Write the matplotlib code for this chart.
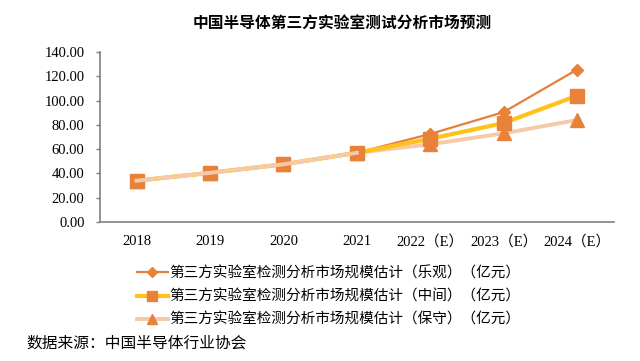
import matplotlib as mpl
mpl.use('Agg')
import matplotlib.pyplot as plt

plt.rcParams['font.family'] = ['Liberation Serif', 'Noto Sans CJK SC']

years = ['2018', '2019', '2020', '2021', '2022（E）', '2023（E）', '2024（E）']
optimistic = [34.0, 40.5, 47.5, 57.0, 72.5, 90.5, 125.5]
middle = [34.0, 40.5, 47.5, 57.0, 68.5, 81.5, 104.0]
conservative = [34.0, 40.5, 47.5, 57.0, 64.0, 73.0, 84.0]
n_hist = 4  # 2018-2021 are actuals, rest are estimates

labels = ['第三方实验室检测分析市场规模估计（乐观）（亿元）',
          '第三方实验室检测分析市场规模估计（中间）（亿元）',
          '第三方实验室检测分析市场规模估计（保守）（亿元）']

fig = plt.figure(figsize=(6.4, 3.61), dpi=100)
ax = fig.add_axes([0.156, 0.385, 0.803, 0.471])

x = list(range(len(years)))
orange = '#E8823A'
l1, = ax.plot(x, optimistic, color='#E4803F', lw=1.6, marker='D', ms=6.3,
              mfc=orange, mec=orange, zorder=3)
l2, = ax.plot(x, middle, color='#FFC21A', lw=3, marker='s', ms=9.5,
              mfc=orange, mec=orange, zorder=4)
l3, = ax.plot(x, conservative, color='#F6C9A8', lw=2.8, marker='^', ms=9.5,
              mfc=orange, mec=orange, zorder=2)
# peach line runs over the square markers on the history part
ax.plot(x[:n_hist], conservative[:n_hist], color='#F6C9A8', lw=2.8, zorder=5)

ax.set_xlim(-0.5, 6.5)
ax.set_ylim(0, 140)
ax.set_yticks(range(0, 141, 20))
ax.set_yticklabels(['%.2f' % v for v in range(0, 141, 20)], fontsize=10.5)
ax.set_xticks(x)
ax.set_xticklabels(years, fontsize=10.5)
ax.tick_params(axis='x', length=0, pad=9)
ax.tick_params(axis='y', length=3, width=1, color='#808080', direction='out', pad=8)
for s in ['top', 'right']:
    ax.spines[s].set_visible(False)
for s in ['left', 'bottom']:
    ax.spines[s].set_color('#808080')
    ax.spines[s].set_linewidth(1.2)

fig.text(0.535, 0.938, '中国半导体第三方实验室测试分析市场预测', ha='center', va='center',
         fontsize=11.3, fontweight='bold', family=['Noto Sans CJK SC'])

leg = fig.legend([l1, l2, l3], labels, loc='upper left', bbox_to_anchor=(0.214, 0.262),
                 frameon=False, handlelength=2.1, handletextpad=0.15,
                 labelspacing=0.62, borderpad=0, borderaxespad=0,
                 prop={'family': ['Noto Sans CJK SC'], 'size': 10.5})
for h in leg.legend_handles:
    h.set_markersize(h.get_markersize() * 0.8)

fig.text(0.041, 0.05, '数据来源：中国半导体行业协会', ha='left', va='center',
         fontsize=11.3, family=['Noto Sans CJK SC'])

fig.savefig('out.png', dpi=100, facecolor='w')
